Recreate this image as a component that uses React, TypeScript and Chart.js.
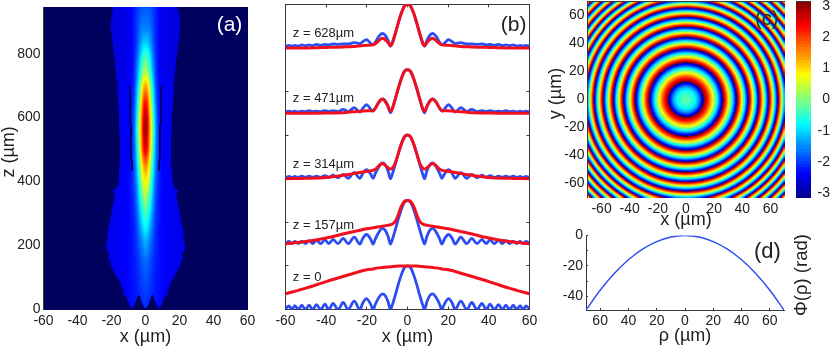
import React, { useEffect, useRef } from "react";
import { Chart, registerables } from "chart.js";

Chart.register(...registerables);

const FONT = "'Liberation Sans', Arial, sans-serif";
const TEXT = "#222222";
const AXIS = "#3a3a3a";
const BLUE = "#2b4df2";
const RED = "#f20f1e";

// ---- Panel (a): intensity
const A_X = [0, 1.3, 2.6, 3.9, 5.2, 6.5, 7.8, 9.5, 12, 16, 24];
const A_Z = [0, 80, 150, 215, 250, 300, 350, 400, 450, 500, 560, 600, 650, 700, 740, 790, 830, 880, 946];
const A_V = [
  [0.17, 0.16, 0.15, 0.14, 0.14, 0.14, 0.13, 0.13, 0.12, 0.11, 0.1],
  [0.2, 0.19, 0.18, 0.17, 0.15, 0.14, 0.14, 0.13, 0.12, 0.11, 0.1],
  [0.23, 0.22, 0.2, 0.18, 0.16, 0.15, 0.14, 0.13, 0.12, 0.11, 0.1],
  [0.31, 0.28, 0.25, 0.21, 0.18, 0.16, 0.14, 0.13, 0.12, 0.11, 0.1],
  [0.37, 0.34, 0.29, 0.24, 0.19, 0.16, 0.14, 0.13, 0.12, 0.11, 0.1],
  [0.45, 0.41, 0.35, 0.28, 0.21, 0.17, 0.15, 0.13, 0.12, 0.11, 0.1],
  [0.54, 0.5, 0.42, 0.33, 0.24, 0.18, 0.15, 0.13, 0.12, 0.11, 0.1],
  [0.64, 0.6, 0.5, 0.38, 0.27, 0.2, 0.16, 0.13, 0.12, 0.11, 0.1],
  [0.76, 0.7, 0.58, 0.44, 0.31, 0.21, 0.17, 0.12, 0.12, 0.1, 0.09],
  [0.92, 0.84, 0.68, 0.5, 0.35, 0.22, 0.17, 0.11, 0.12, 0.1, 0.09],
  [1, 0.9, 0.72, 0.54, 0.38, 0.23, 0.17, 0.11, 0.12, 0.1, 0.09],
  [0.97, 0.88, 0.7, 0.52, 0.36, 0.22, 0.16, 0.11, 0.12, 0.1, 0.09],
  [0.87, 0.8, 0.64, 0.47, 0.32, 0.2, 0.15, 0.11, 0.12, 0.1, 0.09],
  [0.72, 0.67, 0.54, 0.4, 0.28, 0.18, 0.14, 0.11, 0.11, 0.1, 0.09],
  [0.56, 0.53, 0.44, 0.33, 0.24, 0.17, 0.13, 0.11, 0.1, 0.09, 0.09],
  [0.45, 0.43, 0.36, 0.28, 0.21, 0.16, 0.13, 0.11, 0.1, 0.09, 0.09],
  [0.34, 0.33, 0.29, 0.24, 0.19, 0.15, 0.13, 0.11, 0.1, 0.09, 0.09],
  [0.25, 0.25, 0.24, 0.21, 0.18, 0.15, 0.13, 0.11, 0.1, 0.09, 0.09],
  [0.21, 0.21, 0.2, 0.19, 0.17, 0.15, 0.13, 0.11, 0.1, 0.09, 0.09],
];
const EDGE_Z = [60, 72, 85, 102, 118, 133, 150, 165, 175, 186, 196, 200, 225, 248, 290, 331, 350, 362, 373, 380, 394, 450, 498, 600, 706, 800, 883, 920, 946];
const EDGE_W = [13, 14.5, 15, 17, 18.5, 20, 21, 22, 21.5, 23, 23.8, 23, 22.5, 22, 20.5, 19, 18.5, 18, 19.3, 17, 16, 15.2, 15, 15.5, 16.7, 18.6, 20.5, 20, 19];
const FLOOR_X = [0, 1.5, 3, 4.2, 5.5, 7, 8.5, 10, 11.5, 13, 14, 16];
const FLOOR_Z = [3, 12, 35, 48, 28, 8, 5, 22, 45, 42, 70, 100];
const GAP_Z = [433, 702];
const GAP_X = [8.1, 9.3];

// ---- Panel (b): stacked profiles, right half, mirrored
const B_OFFSETS = [0, 1.5, 3, 4.5, 6];
const BLUE_X = [0, 1.5, 3, 4.5, 6, 7.5, 8.4, 9.5, 11, 12.4, 14, 15.8, 16.9, 18.2, 20.2, 22, 23.4, 26.2, 29.2, 31.6, 34.2, 36.6, 38.7, 40.6, 42.7, 44.8, 46.6, 48.4, 50.2, 52, 53.7, 55.4, 56.9, 58.2, 60];
const BLUE_Z0 = [1, 0.96, 0.8, 0.58, 0.33, 0.1, 0, 0.17, 0.32, 0.36, 0.28, 0.12, 0, 0.13, 0.25, 0.15, 0, 0.19, 0, 0.16, 0, 0.14, 0, 0.12, 0, 0.11, 0, 0.1, 0, 0.1, 0, 0.09, 0, 0.08, 0.02];
const BLUE_Z157 = [1, 0.96, 0.8, 0.58, 0.33, 0.1, 0, 0.17, 0.32, 0.36, 0.28, 0.12, 0, 0.12, 0.22, 0.13, 0, 0.16, 0.01, 0.13, 0.01, 0.11, 0.01, 0.1, 0.01, 0.09, 0.01, 0.08, 0.01, 0.07, 0.01, 0.06, 0.01, 0.06, 0.02];
const BLUE_Z314 = [1, 0.96, 0.8, 0.58, 0.33, 0.1, 0, 0.17, 0.32, 0.36, 0.28, 0.12, 0.01, 0.11, 0.21, 0.12, 0.01, 0.14, 0.01, 0.1, 0.02, 0.08, 0.03, 0.07, 0.03, 0.06, 0.03, 0.06, 0.03, 0.06, 0.03, 0.05, 0.03, 0.05, 0.03];
const BLUE_Z471 = [1, 0.96, 0.8, 0.58, 0.33, 0.1, 0.01, 0.15, 0.29, 0.33, 0.26, 0.12, 0.05, 0.1, 0.2, 0.11, 0.03, 0.13, 0.04, 0.09, 0.04, 0.06, 0.04, 0.06, 0.04, 0.05, 0.04, 0.06, 0.04, 0.05, 0.03, 0.05, 0.03, 0.05, 0.03];
const BLUE_Z628 = [1, 0.96, 0.8, 0.58, 0.33, 0.12, 0.04, 0.17, 0.29, 0.33, 0.27, 0.13, 0.07, 0.11, 0.19, 0.14, 0.1, 0.12, 0.09, 0.09, 0.08, 0.09, 0.07, 0.08, 0.06, 0.08, 0.05, 0.07, 0.05, 0.07, 0.04, 0.06, 0.04, 0.06, 0.04];
const RED_X = [0, 1.5, 3, 4.5, 6, 7.5, 8.4, 10, 12.4, 14, 16, 17, 20, 25, 30, 40, 50, 60];
const RED_Z0 = [1, 1, 0.998, 0.995, 0.99, 0.985, 0.98, 0.975, 0.965, 0.955, 0.94, 0.93, 0.91, 0.85, 0.78, 0.64, 0.49, 0.36];
const RED_Z157 = [1, 0.98, 0.87, 0.68, 0.52, 0.46, 0.445, 0.43, 0.41, 0.4, 0.38, 0.375, 0.35, 0.3, 0.25, 0.14, 0.06, 0.01];
const RED_Z314 = [1, 0.96, 0.8, 0.58, 0.36, 0.24, 0.22, 0.27, 0.35, 0.3, 0.21, 0.19, 0.17, 0.13, 0.09, 0.03, 0.01, 0];
const RED_Z471 = [1, 0.96, 0.8, 0.58, 0.33, 0.1, 0.05, 0.2, 0.33, 0.26, 0.1, 0.06, 0.06, 0.04, 0.02, 0.005, 0, 0];
const RED_Z628 = [1, 0.96, 0.8, 0.58, 0.33, 0.1, 0.05, 0.15, 0.22, 0.17, 0.09, 0.07, 0.06, 0.04, 0.025, 0.01, 0, 0];
const Z_LABELS = ["z = 0", "z = 157µm", "z = 314µm", "z = 471µm", "z = 628µm"];
const Z_LABEL_Y = [0.73, 1.93, 3.33, 4.83, 6.34];

// ---- Panel (c): radii of the phase jumps and the central spot
const RING_R = [12.6, 26.3, 36.3, 44.6, 52, 59, 65.5, 71.5, 77, 82, 87, 92, 97, 101];
const CENTRE_R = [0, 2, 4, 6, 7.5, 9, 10.5, 12, 12.6];
const CENTRE_PHI = [-0.2, -0.3, -0.45, -0.7, -1, -1.4, -2, -2.8, -3.14];

// ---- Panel (d)
const RHO = [-70, -60, -50, -40, -30, -20, -10, 0, 10, 20, 30, 40, 50, 60, 70];
const PHI = [-49, -36, -25, -16, -9, -4, -1, 0, -1, -4, -9, -16, -25, -36, -49];

const TICKS_60 = [-60, -40, -20, 0, 20, 40, 60];

const JET: [number, number, number, number][] = [
  [0, 0, 0, 143], [0.125, 0, 0, 255], [0.375, 0, 255, 255], [0.625, 255, 255, 0], [0.875, 255, 0, 0], [1, 128, 0, 0],
];
function jet(v: number): [number, number, number] {
  const t = Math.min(1, Math.max(0, v));
  for (let i = 1; i < JET.length; i++) {
    if (t <= JET[i][0]) {
      const a = JET[i - 1], b = JET[i], k = (t - a[0]) / (b[0] - a[0]);
      return [a[1] + (b[1] - a[1]) * k, a[2] + (b[2] - a[2]) * k, a[3] + (b[3] - a[3]) * k];
    }
  }
  return [128, 0, 0];
}
function lookup(xs: number[], ys: number[], x: number) {
  if (x <= xs[0]) return ys[0];
  for (let i = 1; i < xs.length; i++) {
    if (x <= xs[i]) return ys[i - 1] + ((ys[i] - ys[i - 1]) * (x - xs[i - 1])) / (xs[i] - xs[i - 1]);
  }
  return ys[ys.length - 1];
}
function mirror(xs: number[], ys: number[], offset: number) {
  const pts: { x: number; y: number }[] = [];
  for (let i = xs.length - 1; i > 0; i--) pts.push({ x: -xs[i], y: ys[i] + offset });
  for (let i = 0; i < xs.length; i++) pts.push({ x: xs[i], y: ys[i] + offset });
  return pts;
}

type Cell = { x: number; y: number; v: number };

function beamValue(x: number, z: number) {
  const ax = Math.abs(x);
  if (z < lookup(FLOOR_X, FLOOR_Z, ax)) return -1;
  if (ax > lookup(EDGE_Z, EDGE_W, z)) return -1;
  if (z > GAP_Z[0] && z < GAP_Z[1]) {
    const k = (z - GAP_Z[0]) / (GAP_Z[1] - GAP_Z[0]);
    const c = GAP_X[0] + (GAP_X[1] - GAP_X[0]) * k;
    if (Math.abs(ax - c) < 0.5) return -1;
  }
  let r = 0;
  while (r < A_Z.length - 2 && z > A_Z[r + 1]) r++;
  const k = Math.min(1, Math.max(0, (z - A_Z[r]) / (A_Z[r + 1] - A_Z[r])));
  const lo = lookup(A_X, A_V[r], ax), hi = lookup(A_X, A_V[r + 1], ax);
  return lo + (hi - lo) * k;
}
function wrappedPhase(rho: number) {
  if (rho <= RING_R[0]) return lookup(CENTRE_R, CENTRE_PHI, rho);
  for (let i = 1; i < RING_R.length; i++) {
    if (rho <= RING_R[i]) {
      const a = RING_R[i - 1] ** 2, b = RING_R[i] ** 2;
      return Math.PI - (2 * Math.PI * (rho * rho - a)) / (b - a);
    }
  }
  return -Math.PI;
}

function buildGrid(xMin: number, xMax: number, nx: number, yMin: number, yMax: number, ny: number, f: (x: number, y: number) => number) {
  const cells: Cell[] = [];
  const dx = (xMax - xMin) / nx, dy = (yMax - yMin) / ny;
  for (let j = 0; j < ny; j++) {
    for (let i = 0; i < nx; i++) {
      const x = xMin + (i + 0.5) * dx, y = yMin + (j + 0.5) * dy;
      cells.push({ x, y, v: f(x, y) });
    }
  }
  return { cells, nx, ny, dx, dy };
}

function heatPlugin(grid: ReturnType<typeof buildGrid>, color: (v: number) => [number, number, number], smooth: boolean) {
  return {
    id: "heat",
    beforeDatasetsDraw(chart: any) {
      const { nx, ny, cells, dx, dy } = grid;
      const off = document.createElement("canvas");
      off.width = nx;
      off.height = ny;
      const octx = off.getContext("2d")!;
      const img = octx.createImageData(nx, ny);
      cells.forEach((c, n) => {
        const i = n % nx, j = Math.floor(n / nx);
        const p = ((ny - 1 - j) * nx + i) * 4;
        const [r, g, b] = color(c.v);
        img.data[p] = r;
        img.data[p + 1] = g;
        img.data[p + 2] = b;
        img.data[p + 3] = 255;
      });
      octx.putImageData(img, 0, 0);
      const xs = chart.scales.x, ys = chart.scales.y;
      const x0 = xs.getPixelForValue(cells[0].x - dx / 2);
      const x1 = xs.getPixelForValue(cells[cells.length - 1].x + dx / 2);
      const y0 = ys.getPixelForValue(cells[cells.length - 1].y + dy / 2);
      const y1 = ys.getPixelForValue(cells[0].y - dy / 2);
      const ctx = chart.ctx;
      ctx.save();
      ctx.imageSmoothingEnabled = smooth;
      ctx.imageSmoothingQuality = "high";
      ctx.drawImage(off, x0, y0, x1 - x0, y1 - y0);
      ctx.restore();
    },
  };
}

type Note = { text: string; x: number; y: number; size: number; color: string; align?: CanvasTextAlign; rotate?: number };
function notesPlugin(notes: Note[]) {
  return {
    id: "notes",
    afterDraw(chart: any) {
      const ctx = chart.ctx;
      notes.forEach((n) => {
        ctx.save();
        ctx.translate(chart.scales.x.getPixelForValue(n.x), chart.scales.y.getPixelForValue(n.y));
        if (n.rotate) ctx.rotate(n.rotate);
        ctx.font = `${n.size}px ${FONT}`;
        ctx.fillStyle = n.color;
        ctx.textAlign = n.align || "center";
        ctx.textBaseline = "middle";
        ctx.fillText(n.text, 0, 0);
        ctx.restore();
      });
    },
  };
}

function fixed(size: number, dim: "width" | "height", ticks?: number[]) {
  return {
    afterFit(s: any) {
      s[dim] = size;
      s.paddingLeft = s.paddingRight = s.paddingTop = s.paddingBottom = 0;
    },
    afterBuildTicks(s: any) {
      if (ticks) s.ticks = ticks.map((value) => ({ value }));
    },
  };
}

type AxisSpec = {
  min: number; max: number; ticks: number[]; label?: (v: number) => string; title?: string; size: number; titleSize?: number; tickPad?: number; tl?: number;
};
function axisOptions(a: AxisSpec, position: string, axis: "x" | "y") {
  const horizontal = axis === "x";
  const tl = a.tl ?? 3;
  return {
    type: "linear",
    position,
    axis,
    min: a.min,
    max: a.max,
    ...fixed(a.size, horizontal ? "height" : "width", a.ticks),
    border: { display: true, color: AXIS, width: 1 },
    grid: { drawOnChartArea: false, drawTicks: true, tickLength: -tl, tickColor: AXIS, tickWidth: 1 },
    ticks: {
      display: !!a.label,
      autoSkip: false,
      maxRotation: 0,
      minRotation: 0,
      padding: (a.tickPad ?? 3) + tl,
      color: TEXT,
      font: { family: FONT, size: 14 },
      callback: a.label || (() => ""),
    },
    title: a.title
      ? { display: true, text: a.title, color: TEXT, font: { family: FONT, size: a.titleSize ?? 18 }, padding: 0 }
      : { display: false },
  };
}

function panelConfig(opts: {
  box: { l: number; t: number; r: number; b: number };
  x: AxisSpec; y: AxisSpec;
  datasets: any[]; plugins: any[]; rightTicks?: boolean; topTicks?: boolean;
}) {
  const { box, x, y } = opts;
  const scales: any = {
    x: axisOptions(x, "bottom", "x"),
    y: axisOptions(y, "left", "y"),
  };
  if (opts.topTicks !== false) scales.xTop = axisOptions({ ...x, label: undefined, title: undefined, size: 0 }, "top", "x");
  if (opts.rightTicks !== false) scales.yRight = axisOptions({ ...y, label: undefined, title: undefined, size: 0 }, "right", "y");
  return {
    type: "scatter",
    data: { datasets: opts.datasets },
    plugins: opts.plugins,
    options: {
      animation: false,
      responsive: false,
      events: [],
      layout: {
        padding: { left: box.l - y.size, top: box.t, right: 830 - box.r, bottom: 348 - box.b - x.size },
      },
      plugins: { legend: { display: false }, tooltip: { enabled: false }, title: { display: false } },
      scales,
    },
  };
}

function lineSet(label: string, xs: number[], ys: number[], off: number, color: string, width: number) {
  return {
    label,
    data: mirror(xs, ys, off),
    showLine: true,
    borderColor: color,
    borderWidth: width,
    pointRadius: 0,
    cubicInterpolationMode: "monotone",
  };
}

const signed = (v: number) => String(v);

function makeConfigs() {
  const aGrid = buildGrid(-60, 60, 240, 0, 946, 240, beamValue);
  const cGrid = buildGrid(-70, 70, 200, -70, 70, 200, (x, y) => wrappedPhase(Math.hypot(x, y)));
  const barGrid = buildGrid(0, 1, 1, -Math.PI, Math.PI, 64, (_x, y) => y);
  const phaseColor = (v: number) => jet((v + Math.PI) / (2 * Math.PI));

  const a = panelConfig({
    box: { l: 43.5, t: 7, r: 247.5, b: 309.5 },
    x: { min: -60, max: 60, ticks: TICKS_60, label: signed, title: "x (µm)", size: 38.5 },
    y: {
      min: 0, max: 946, ticks: [0, 100, 200, 300, 400, 500, 600, 700, 800, 900],
      label: (v) => (v % 200 === 0 ? String(v) : ""), size: 43.5,
    },
    datasets: [{ label: "intensity", data: aGrid.cells, pointRadius: 0 }],
    plugins: [
      heatPlugin(aGrid, (v) => (v < 0 ? [0, 0, 95] : jet(v)), true),
      notesPlugin([
        { text: "(a)", x: 49.4, y: 890, size: 21, color: "#ffffff" },
        { text: "z (µm)", x: -80.3, y: 493, size: 18, color: TEXT, rotate: -Math.PI / 2 },
      ]),
    ],
  });

  const bSets: any[] = [];
  const blues = [BLUE_Z0, BLUE_Z157, BLUE_Z314, BLUE_Z471, BLUE_Z628];
  const reds = [RED_Z0, RED_Z157, RED_Z314, RED_Z471, RED_Z628];
  reds.forEach((ys, i) => bSets.push(lineSet("red " + Z_LABELS[i], RED_X, ys, B_OFFSETS[i], RED, 3)));
  blues.forEach((ys, i) => bSets.push(lineSet("blue " + Z_LABELS[i], BLUE_X, ys, B_OFFSETS[i], BLUE, 2.8)));
  const b = panelConfig({
    box: { l: 285.5, t: 4.3, r: 529.5, b: 309.5 },
    x: { min: -60, max: 60, ticks: TICKS_60, label: signed, title: "x (µm)", size: 38.5 },
    y: { min: 0, max: 7, ticks: [1, 2, 3, 4, 5, 6], size: 10 },
    datasets: bSets,
    plugins: [
      notesPlugin([
        ...Z_LABELS.map((text, i) => ({ text, x: -56.4, y: Z_LABEL_Y[i], size: 13, color: TEXT, align: "left" as CanvasTextAlign })),
        { text: "(b)", x: 52.2, y: 6.52, size: 21, color: TEXT },
      ]),
    ],
  });

  const c = panelConfig({
    box: { l: 587.5, t: 1.5, r: 784.5, b: 197.5 },
    x: { min: -70, max: 70, ticks: TICKS_60, label: signed, title: "x (µm)", size: 33 },
    y: { min: -70, max: 70, ticks: TICKS_60, label: signed, size: 39.5 },
    datasets: [{ label: "phase", data: cGrid.cells, pointRadius: 0 }],
    plugins: [
      heatPlugin(cGrid, phaseColor, true),
      notesPlugin([
        { text: "(c)", x: 57.3, y: 57, size: 20, color: "#2a2a2a" },
        { text: "y (µm)", x: -92.6, y: 4.3, size: 18, color: TEXT, rotate: -Math.PI / 2 },
      ]),
    ],
  });

  const bar = panelConfig({
    box: { l: 796, t: 1.5, r: 810.5, b: 197.5 },
    x: { min: 0, max: 1, ticks: [], size: 0 },
    y: { min: -Math.PI, max: Math.PI, ticks: [-3, -2, -1, 0, 1, 2, 3], size: 0 },
    datasets: [{ label: "colorbar", data: barGrid.cells, pointRadius: 0 }],
    plugins: [heatPlugin(barGrid, phaseColor, false)],
    rightTicks: false,
  });
  bar.options.scales.y = { ...bar.options.scales.y, position: "right" };
  bar.options.scales.y.ticks = { ...bar.options.scales.y.ticks, display: true, crossAlign: "far", callback: signed, padding: 2 };
  bar.options.scales.y.grid = { ...bar.options.scales.y.grid, tickLength: 0, drawTicks: false };
  const barAxis = fixed(19.5, "width", [-3, -2, -1, 0, 1, 2, 3]);
  bar.options.scales.y.afterFit = barAxis.afterFit;
  bar.options.layout.padding = { left: 796, top: 1.5, right: 0, bottom: 348 - 197.5 };
  bar.options.scales.yLeft = axisOptions({ min: -Math.PI, max: Math.PI, ticks: [], size: 0 }, "left", "y");

  const d = panelConfig({
    box: { l: 586, t: 235.5, r: 784, b: 310 },
    x: { min: -70, max: 70, ticks: TICKS_60, label: (v) => String(Math.abs(v)), title: "ρ (µm)", size: 37, tl: 2 },
    y: { min: -49, max: 0, ticks: [0, -10, -20, -30, -40], label: (v) => (v % 20 === 0 ? String(v) : ""), size: 40, tl: 2 },
    datasets: [
      { label: "phi", data: RHO.map((x, i) => ({ x, y: PHI[i] })), showLine: true, borderColor: BLUE, borderWidth: 1.4, pointRadius: 0, cubicInterpolationMode: "monotone" },
    ],
    plugins: [
      notesPlugin([
        { text: "(d)", x: 58.3, y: -11, size: 22, color: TEXT },
        { text: "Φ(ρ) (rad)", x: 82.5, y: -26, size: 18.5, color: TEXT, rotate: -Math.PI / 2 },
      ]),
    ],
    topTicks: false,
    rightTicks: false,
  });

  return [a, b, c, bar, d];
}

export default function App() {
  const host = useRef<HTMLDivElement>(null);
  useEffect(() => {
    const root = host.current!;
    const charts = makeConfigs().map((cfg) => {
      const canvas = document.createElement("canvas");
      canvas.width = 830;
      canvas.height = 348;
      canvas.style.cssText = "position:absolute;left:0;top:0;width:830px;height:348px;";
      root.appendChild(canvas);
      return new Chart(canvas, cfg as any);
    });
    return () => {
      charts.forEach((ch) => {
        const el = ch.canvas;
        ch.destroy();
        el.remove();
      });
    };
  }, []);
  return <div ref={host} style={{ position: "absolute", left: 0, top: 0, width: 830, height: 348, background: "#fff" }} />;
}
